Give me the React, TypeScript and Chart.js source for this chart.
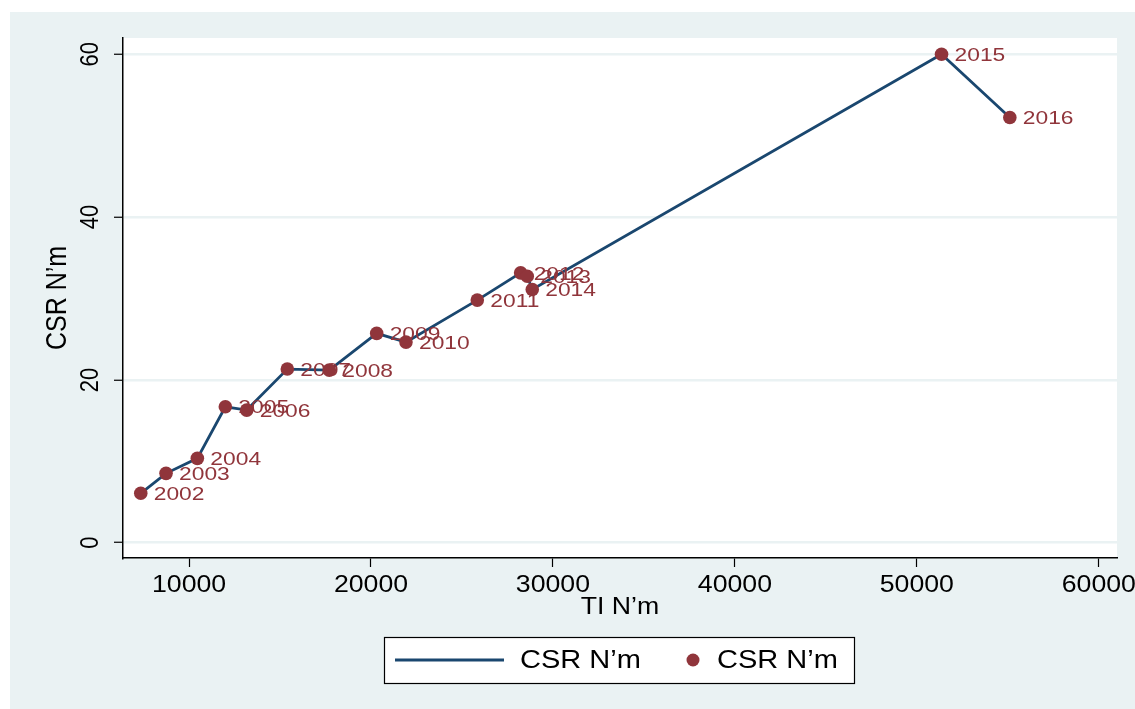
import React, { useEffect, useRef } from "react";
import { Chart, registerables } from "chart.js";

Chart.register(...registerables);

// ---- data ----
const years = ["2002", "2003", "2004", "2005", "2006", "2007", "2008", "2009", "2010", "2011", "2012", "2013", "2014", "2015", "2016"];
const tiValues = [7346, 8736, 10456, 11995, 13170, 15401, 17709, 20313, 21923, 25841, 28225, 28588, 28863, 51357, 55110];
const csrValues = [6.07, 8.52, 10.36, 16.7, 16.29, 21.33, 21.2, 25.71, 24.64, 29.8, 33.15, 32.74, 31.11, 60.0, 52.23];
const xTicks = [10000, 20000, 30000, 40000, 50000, 60000];
const yTicks = [0, 20, 40, 60];
const seriesLabel = "CSR N\u2019m";
const xTitle = "TI N\u2019m";
const yTitle = "CSR N\u2019m";

const LINE_COLOR = "#1a476f";
const MARKER_COLOR = "#90353b";
const BG = "#eaf2f3";
const FONT = "'Liberation Sans', Arial, sans-serif";
const SX = 1.16;

function drawText(ctx: CanvasRenderingContext2D, text: string, x: number, y: number, size: number, color: string, align: CanvasTextAlign, rotate = false, sx = SX) {
  ctx.save();
  ctx.translate(x, y);
  ctx.scale(sx, 1);
  if (rotate) ctx.rotate(-Math.PI / 2);
  ctx.font = `${size}px ${FONT}`;
  ctx.fillStyle = color;
  ctx.textAlign = align;
  ctx.textBaseline = "middle";
  ctx.fillText(text, 0, 0);
  ctx.restore();
}

const decorPlugin = {
  id: "decor",
  beforeDraw(chart: any) {
    const { ctx, width, height, chartArea } = chart;
    ctx.save();
    ctx.fillStyle = "#ffffff";
    ctx.fillRect(0, 0, width, height);
    ctx.fillStyle = BG;
    ctx.fillRect(10, 12, width - 10, height - 12);
    ctx.fillStyle = "#ffffff";
    ctx.fillRect(chartArea.left, chartArea.top, chartArea.right - chartArea.left, chartArea.bottom - chartArea.top);
    ctx.restore();
  },
  afterDraw(chart: any) {
    const { ctx, chartArea } = chart;
    const xs = chart.scales.x;
    const ys = chart.scales.y;
    // x tick labels
    xTicks.forEach((v) => {
      drawText(ctx, String(v), xs.getPixelForValue(v), 586, 23, "#000", "center");
    });
    // y tick labels (rotated)
    yTicks.forEach((v) => {
      drawText(ctx, String(v), 91, ys.getPixelForValue(v), 22, "#000", "center", true);
    });
    // titles
    drawText(ctx, xTitle, (chartArea.left + chartArea.right) / 2, 608, 23, "#000", "center");
    drawText(ctx, yTitle, 58, (chartArea.top + chartArea.bottom) / 2, 25, "#000", "center", true);
    // point labels
    years.forEach((yr, i) => {
      const px = xs.getPixelForValue(tiValues[i]);
      const py = ys.getPixelForValue(csrValues[i]);
      drawText(ctx, yr, px + 13, py + 1.5, 19, MARKER_COLOR, "left", false, 1.2);
    });
    // legend
    ctx.save();
    ctx.fillStyle = "#ffffff";
    ctx.fillRect(384, 637, 470, 46);
    ctx.strokeStyle = "#000";
    ctx.lineWidth = 1.2;
    ctx.strokeRect(384.5, 637.5, 470, 46);
    ctx.strokeStyle = LINE_COLOR;
    ctx.lineWidth = 2.8;
    ctx.beginPath();
    ctx.moveTo(395, 660);
    ctx.lineTo(504, 660);
    ctx.stroke();
    ctx.fillStyle = MARKER_COLOR;
    ctx.beginPath();
    ctx.arc(693, 660, 6.5, 0, Math.PI * 2);
    ctx.fill();
    ctx.restore();
    drawText(ctx, seriesLabel, 520, 661, 25, "#000", "left");
    drawText(ctx, seriesLabel, 717, 661, 25, "#000", "left");
  },
};

export default function App() {
  const canvasRef = useRef<HTMLCanvasElement | null>(null);

  useEffect(() => {
    const canvas = canvasRef.current;
    if (!canvas) return;
    const points = tiValues.map((x, i) => ({ x, y: csrValues[i] }));
    const chart = new Chart(canvas, {
      type: "scatter",
      data: {
        datasets: [
          {
            label: seriesLabel,
            data: points,
            pointRadius: 6.8,
            pointHoverRadius: 6.8,
            pointBackgroundColor: MARKER_COLOR,
            pointBorderWidth: 0,
            showLine: false,
          },
          {
            label: seriesLabel,
            data: points,
            showLine: true,
            borderColor: LINE_COLOR,
            borderWidth: 2.8,
            pointRadius: 0,
            fill: false,
          },
        ],
      },
      plugins: [decorPlugin],
      options: {
        animation: false,
        responsive: false,
        devicePixelRatio: 1,
        layout: { padding: { left: 0, top: 38, right: 18, bottom: 0 } },
        plugins: { legend: { display: false }, tooltip: { enabled: false } },
        events: [],
        scales: {
          x: {
            type: "linear",
            min: 6370,
            max: 61000,
            afterBuildTicks: (s: any) => {
              s.ticks = xTicks.map((v) => ({ value: v }));
            },
            afterFit: (s: any) => {
              s.height = 151;
            },
            ticks: { display: false },
            grid: { drawOnChartArea: false, drawTicks: true, tickLength: 9, tickColor: "#000", tickWidth: 1.2 },
            border: { display: true, color: "#000", width: 1.5 },
          },
          y: {
            type: "linear",
            min: -1.88,
            max: 62,
            afterBuildTicks: (s: any) => {
              s.ticks = yTicks.map((v) => ({ value: v }));
            },
            afterFit: (s: any) => {
              s.width = 123;
            },
            ticks: { display: false },
            grid: { color: BG, lineWidth: 2.5, drawTicks: true, tickLength: 9, tickColor: "#000", tickWidth: 1.2 },
            border: { display: true, color: "#000", width: 1.5 },
          },
        },
      },
    } as any);
    return () => chart.destroy();
  }, []);

  return (
    <div style={{ position: "absolute", left: 0, top: 0, width: 1135, height: 709 }}>
      <canvas ref={canvasRef} width={1135} height={709} style={{ width: 1135, height: 709, display: "block" }} />
    </div>
  );
}
